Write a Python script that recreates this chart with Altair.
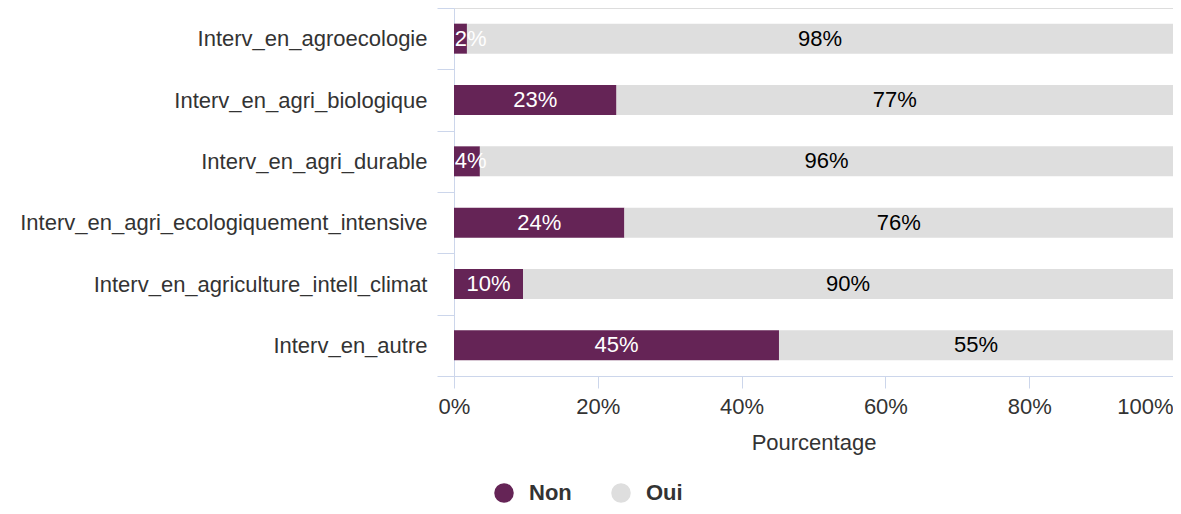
import altair as alt
import pandas as pd

categories = [
    "Interv_en_agroecologie",
    "Interv_en_agri_biologique",
    "Interv_en_agri_durable",
    "Interv_en_agri_ecologiquement_intensive",
    "Interv_en_agriculture_intell_climat",
    "Interv_en_autre",
]
non_values = [1.8, 22.6, 3.6, 23.7, 9.6, 45.2]
oui_values = [98.2, 77.4, 96.4, 76.3, 90.4, 54.8]
series = ["Non", "Oui"]
colors = ["#652456", "#dedede"]
label_colors = ["#ffffff", "#000000"]
x_ticks = [0, 20, 40, 60, 80, 100]

rows = []
for c, n, o in zip(categories, non_values, oui_values):
    rows.append(dict(cat=c, serie="Non", start=0.0, end=n, val=n, ord=0))
    rows.append(dict(cat=c, serie="Oui", start=n, end=n + o, val=o, ord=1))
df = pd.DataFrame(rows)

FONT = "Liberation Sans"
AX = "#ccd6eb"
FS = 22

y_enc = alt.Y(
    "cat:N",
    sort=categories,
    scale=alt.Scale(paddingInner=0, paddingOuter=0),
    axis=alt.Axis(
        title=None,
        labelFontSize=FS,
        labelColor="#333333",
        labelFont=FONT,
        tickBand="extent",
        tickSize=17,
        tickColor=AX,
        domainColor=AX,
        labelPadding=10,
        grid=False,
        labelLimit=600,
    ),
)

bars = alt.Chart(df).mark_bar(size=30).encode(
    x=alt.X(
        "start:Q",
        scale=alt.Scale(domain=[0, 100], nice=False),
        axis=alt.Axis(
            values=x_ticks,
            labelExpr="datum.value + '%'",
            title="Pourcentage",
            titleFontSize=FS,
            titleFontWeight="normal",
            titleColor="#333333",
            titleFont=FONT,
            titlePadding=15,
            labelFontSize=FS,
            labelColor="#333333",
            labelFont=FONT,
            labelAlign=alt.ExprRef(expr="datum.value == 100 ? 'right' : 'center'"),
            tickSize=12,
            tickColor=AX,
            domainColor=AX,
            labelPadding=8,
            grid=False,
        ),
    ),
    x2="end:Q",
    y=y_enc,
    color=alt.Color(
        "serie:N",
        scale=alt.Scale(domain=series, range=colors),
        legend=alt.Legend(
            title=None,
            orient="none",
            legendX=39,
            legendY=474,
            direction="horizontal",
            columns=2,
            symbolType="circle",
            symbolSize=380,
            symbolStrokeWidth=0,
            symbolOpacity=1,
            labelFontSize=FS,
            labelFontWeight="bold",
            labelColor="#333333",
            labelFont=FONT,
            labelOffset=14,
            columnPadding=38,
            padding=0,
        ),
    ),
    order="ord:Q",
)

labels = alt.Chart(df).transform_calculate(
    mid="datum.ord == 0 ? max((datum.start + datum.end) / 2, 2.3) : (datum.start + datum.end) / 2",
    txt="format(round(datum.val), 'd') + '%'",
).mark_text(fontSize=FS, font=FONT, baseline="middle", align="center").encode(
    x="mid:Q",
    y=alt.Y("cat:N", sort=categories),
    text="txt:N",
    color=alt.Color("serie:N", scale=alt.Scale(domain=series, range=label_colors), legend=None),
)

chart = (
    alt.layer(bars, labels)
    .resolve_scale(color="independent")
    .properties(
        width=719,
        height=368,
        autosize=alt.AutoSizeParams(type="none"),
        padding={"left": 446, "top": 0, "right": 0, "bottom": 128},
    )
    .configure_view(stroke=None)
    .configure(font=FONT)
)

chart.save("out.html", embed_options={"renderer": "svg", "actions": False})
